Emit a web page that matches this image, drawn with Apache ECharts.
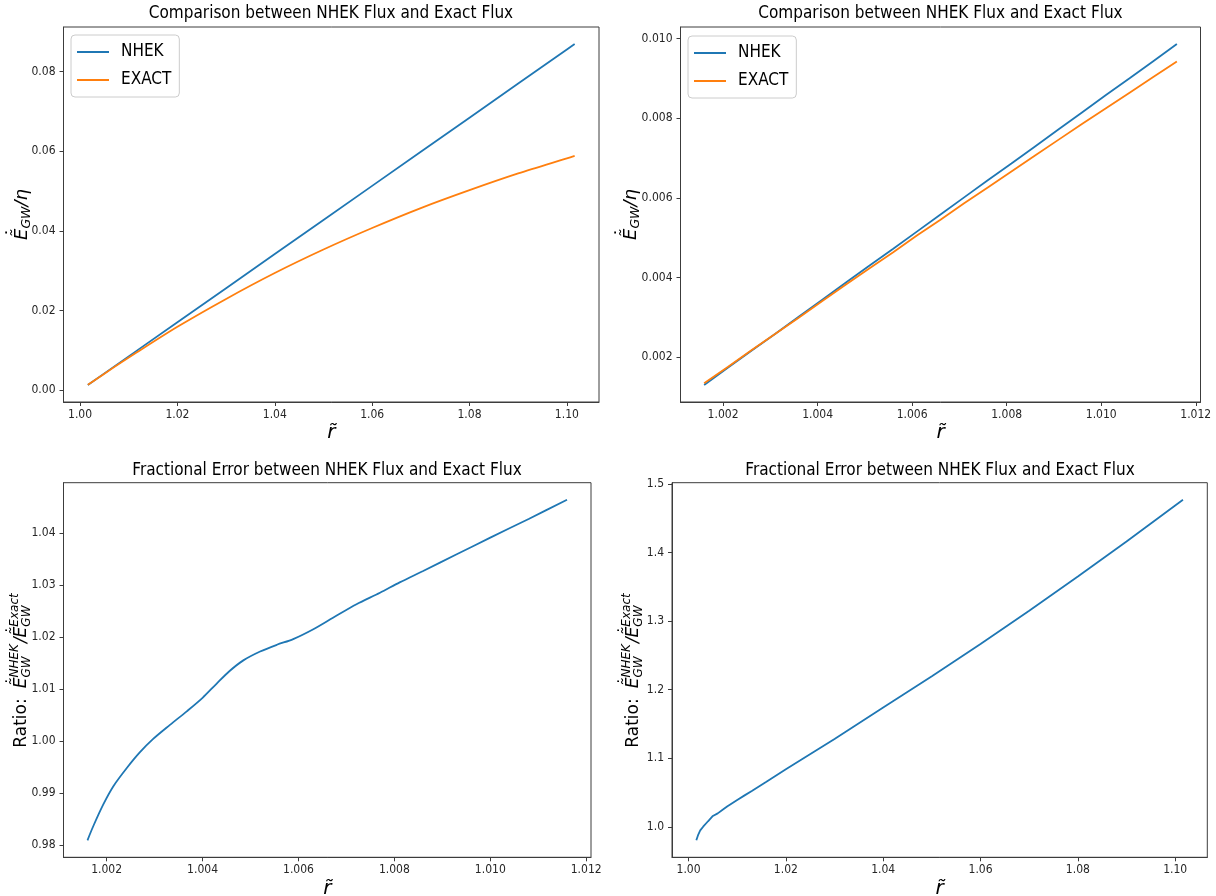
<!DOCTYPE html>
<html>
<head>
<meta charset="utf-8">
<script src="https://cdn.jsdelivr.net/npm/echarts@6/dist/echarts.min.js"></script>
<style>
html,body{margin:0;padding:0;background:#fff;}
#chart{width:1216px;height:896px;}
</style>
</head>
<body>
<div id="chart"></div>
<script>
// ---------- data ----------
// wide r range (top-left fluxes)
const rLarge = [1.0016, 1.005, 1.0116, 1.02, 1.03, 1.04, 1.05, 1.06, 1.07, 1.08, 1.09, 1.10, 1.1016];
const nhekLarge = [0.00130, 0.00421, 0.00986, 0.01705, 0.02561, 0.03417, 0.04273, 0.05129, 0.05985, 0.06841, 0.07697, 0.08553, 0.08690];
const exactLarge = [0.00133, 0.00414, 0.00942, 0.01590, 0.02290, 0.02940, 0.03530, 0.04070, 0.04570, 0.05020, 0.05440, 0.05820, 0.05880];

// narrow r range (top-right fluxes)
const rSmall = [1.0016, 1.0021, 1.0026, 1.0031, 1.0036, 1.0041, 1.0046, 1.0051, 1.0056, 1.0061, 1.0066,
                1.0071, 1.0076, 1.0081, 1.0086, 1.0091, 1.0096, 1.0101, 1.0106, 1.0111, 1.0116];
const nhekSmall = [0.00130, 0.00173, 0.00216, 0.00258, 0.00301, 0.00344, 0.00387, 0.00430, 0.00472, 0.00515, 0.00558,
                   0.00601, 0.00644, 0.00686, 0.00729, 0.00772, 0.00815, 0.00858, 0.00900, 0.00943, 0.00986];
const exactSmall = [0.00134, 0.00175, 0.00217, 0.00258, 0.00299, 0.00341, 0.00382, 0.00423, 0.00463, 0.00505, 0.00545,
                    0.00586, 0.00626, 0.00666, 0.00706, 0.00746, 0.00786, 0.00825, 0.00864, 0.00903, 0.00942];

// ratio, narrow r range (bottom-left)
const rRatioSmall = [1.0016, 1.00172, 1.00193, 1.00214, 1.00242, 1.00269, 1.00297, 1.00332, 1.00367, 1.0040,
                     1.00429, 1.00457, 1.00485, 1.0052, 1.00555, 1.00589, 1.00631, 1.00672, 1.00721, 1.0077,
                     1.00811, 1.0086, 1.0093, 1.0100, 1.0108, 1.0116];
const ratioSmall = [0.9809, 0.9836, 0.9878, 0.9913, 0.9948, 0.9978, 1.0004, 1.0031, 1.0057, 1.0083,
                    1.0110, 1.0135, 1.0155, 1.0172, 1.0185, 1.0196, 1.0215, 1.0237, 1.0263, 1.0285,
                    1.0305, 1.0327, 1.0359, 1.0391, 1.0427, 1.0464];

// ratio, wide r range (bottom-right)
const rRatioLarge = [1.0016, 1.0020, 1.0024, 1.0030, 1.0040, 1.0050, 1.0060, 1.0070, 1.0080, 1.0100, 1.0116,
                     1.0130, 1.0160, 1.0200, 1.0300, 1.0400, 1.0500, 1.0600, 1.0700, 1.0800, 1.0900, 1.1000, 1.1016];
const ratioLarge = [0.9806, 0.9890, 0.9950, 1.0004, 1.0083, 1.0160, 1.0198, 1.0250, 1.0301, 1.0392, 1.0464,
                    1.0525, 1.0660, 1.0842, 1.1283, 1.1740, 1.2195, 1.2665, 1.3150, 1.3650, 1.4160, 1.4685, 1.4768];

// tick labels
const xTicksLarge = [1.00, 1.02, 1.04, 1.06, 1.08, 1.10];
const xTicksSmall = [1.002, 1.004, 1.006, 1.008, 1.010, 1.012];
const yTicksTL = [0.00, 0.02, 0.04, 0.06, 0.08];
const yTicksTR = [0.002, 0.004, 0.006, 0.008, 0.010];
const yTicksBL = [0.98, 0.99, 1.00, 1.01, 1.02, 1.03, 1.04];
const yTicksBR = [1.0, 1.1, 1.2, 1.3, 1.4, 1.5];

const titleTop = 'Comparison between NHEK Flux and Exact Flux';
const titleBottom = 'Fractional Error between NHEK Flux and Exact Flux';

// ---------- styling ----------
const NARROW = '"Liberation Sans Narrow", "DejaVu Sans Condensed", "Liberation Sans", sans-serif';
const MATH = '"DejaVu Sans", sans-serif';
const BLUE = '#1f77b4', ORANGE = '#ff7f0e', FRAME = '#3c3c3c';

const zip = (xs, ys) => xs.map((x, i) => [x, ys[i]]);

const grids = [
  {left: 63.5, top: 27, width: 535.5, height: 375},
  {left: 680.5, top: 27, width: 520, height: 375},
  {left: 63.5, top: 482.7, width: 527.5, height: 374.6},
  {left: 672, top: 482.7, width: 535.3, height: 374.6}
].map(g => Object.assign({show: true, borderColor: FRAME, borderWidth: 1, containLabel: false, outerBoundsMode: 'none'}, g));

function xAxis(gi, min, max, ticks, dec) {
  return {
    type: 'value', gridIndex: gi, min, max,
    name: 'r\u0303', nameLocation: 'middle', nameGap: 21,
    nameTextStyle: {fontFamily: MATH, fontStyle: 'italic', fontSize: 20, color: '#000', verticalAlign: 'top'},
    axisLine: {show: true, onZero: false, lineStyle: {color: FRAME, width: 1}},
    axisTick: {show: true, inside: false, length: 4, customValues: ticks, lineStyle: {color: FRAME}},
    axisLabel: {show: true, customValues: ticks, margin: 7, fontFamily: NARROW, fontSize: 12, color: '#262626',
                formatter: v => Number(v).toFixed(dec)},
    splitLine: {show: false}
  };
}
function yAxis(gi, min, max, ticks, dec) {
  return {
    type: 'value', gridIndex: gi, min, max,
    axisLine: {show: true, onZero: false, lineStyle: {color: FRAME, width: 1}},
    axisTick: {show: true, inside: false, length: 4, customValues: ticks, lineStyle: {color: FRAME}},
    axisLabel: {show: true, customValues: ticks, margin: 8, fontFamily: NARROW, fontSize: 12, color: '#262626',
                formatter: v => Number(v).toFixed(dec)},
    splitLine: {show: false}
  };
}

// ---------- math-like rotated y labels ----------
const mctx = document.createElement('canvas').getContext('2d');
function tw(font, s) { mctx.font = font; return mctx.measureText(s).width; }
function fontOf(size, italic) { return (italic ? 'italic ' : '') + size + 'px ' + MATH; }

function textEl(x, y, s, f) {
  return {type: 'text', x: x, y: y, style: {text: s, font: f, fill: '#000', align: 'left', verticalAlign: 'middle'}};
}
function rotatedLabel(cx, cy, items) {
  const children = [];
  let x = 0;
  items.forEach(it => {
    if (it.gap) { x += it.gap; return; }
    if (it.sup) {
      const f = fontOf(it.size, true);
      const w = Math.max(tw(f, it.sup), tw(f, it.sub));
      children.push(textEl(x, it.supDy, it.sup, f));
      children.push(textEl(x, it.subDy, it.sub, f));
      x += w + 1;
      return;
    }
    const f = fontOf(it.size, it.italic);
    const w = tw(f, it.t);
    children.push(textEl(x, it.dy || 0, it.t, f));
    if (it.dot) {
      // dot accent above the tilde
      const df = fontOf(it.size, false);
      children.push({type: 'text', x: x + w * 0.66, y: -it.size * 0.44,
                     style: {text: '\u02d9', font: df, fill: '#000', align: 'center', verticalAlign: 'middle'}});
    }
    x += w + (it.after || 0);
  });
  const half = x / 2;
  children.forEach(c => { c.x -= half; });
  return {type: 'group', x: cx, y: cy, rotation: Math.PI / 2, silent: true, children};
}

const ETIL = 'E\u0303';
function fluxLabel(cx, cy) {
  return rotatedLabel(cx, cy, [
    {t: ETIL, size: 18, italic: true, dot: true},
    {t: 'GW', size: 12.5, italic: true, dy: 5},
    {t: '/\u03b7', size: 18, italic: true}
  ]);
}
function ratioLabel(cx, cy) {
  return rotatedLabel(cx, cy, [
    {t: 'Ratio:', size: 17, italic: false},
    {gap: 10},
    {t: ETIL, size: 17, italic: true, dot: true},
    {sup: 'NHEK', sub: 'GW', size: 12, supDy: -7, subDy: 5},
    {t: '/', size: 17, italic: true},
    {t: ETIL, size: 17, italic: true, dot: true},
    {sup: 'Exact', sub: 'GW', size: 12, supDy: -7, subDy: 5}
  ]);
}

const titleStyle = {fontFamily: NARROW, fontSize: 17, fontWeight: 'normal', color: '#000'};
const legendBase = {
  orient: 'vertical', data: ['NHEK', 'EXACT'], icon: 'rect', itemWidth: 32, itemHeight: 2, itemGap: 8,
  padding: [7, 8, 7, 6], borderColor: '#cccccc', borderWidth: 1, borderRadius: 4,
  backgroundColor: 'rgba(255,255,255,0.8)',
  textStyle: {fontFamily: NARROW, fontSize: 17, color: '#000', lineHeight: 20, padding: [0, 0, 0, 7]},
  selectedMode: false
};

const option = {
  animation: false,
  backgroundColor: '#ffffff',
  title: [
    {text: titleTop, left: 331, top: 5, textAlign: 'center', padding: 0, textStyle: titleStyle},
    {text: titleTop, left: 940.5, top: 5, textAlign: 'center', padding: 0, textStyle: titleStyle},
    {text: titleBottom, left: 327, top: 462, textAlign: 'center', padding: 0, textStyle: titleStyle},
    {text: titleBottom, left: 940, top: 462, textAlign: 'center', padding: 0, textStyle: titleStyle}
  ],
  legend: [
    Object.assign({left: 71, top: 35}, legendBase),
    Object.assign({left: 688, top: 36}, legendBase)
  ],
  grid: grids,
  xAxis: [
    xAxis(0, 0.9966, 1.1066, xTicksLarge, 2),
    xAxis(1, 1.0011, 1.0121, xTicksSmall, 3),
    xAxis(2, 1.0011, 1.0121, xTicksSmall, 3),
    xAxis(3, 0.9966, 1.1066, xTicksLarge, 2)
  ],
  yAxis: [
    yAxis(0, -0.00298, 0.09118, yTicksTL, 2),
    yAxis(1, 0.000872, 0.010288, yTicksTR, 3),
    yAxis(2, 0.97763, 1.04967, yTicksBL, 2),
    yAxis(3, 0.9558, 1.5016, yTicksBR, 1)
  ],
  series: [
    {name: 'NHEK', type: 'line', xAxisIndex: 0, yAxisIndex: 0, data: zip(rLarge, nhekLarge), symbol: 'none',
     lineStyle: {color: BLUE, width: 1.8}, itemStyle: {color: BLUE}},
    {name: 'EXACT', type: 'line', xAxisIndex: 0, yAxisIndex: 0, data: zip(rLarge, exactLarge), symbol: 'none', smooth: 0.3,
     lineStyle: {color: ORANGE, width: 1.8}, itemStyle: {color: ORANGE}},
    {name: 'NHEK', type: 'line', xAxisIndex: 1, yAxisIndex: 1, data: zip(rSmall, nhekSmall), symbol: 'none',
     lineStyle: {color: BLUE, width: 1.8}, itemStyle: {color: BLUE}},
    {name: 'EXACT', type: 'line', xAxisIndex: 1, yAxisIndex: 1, data: zip(rSmall, exactSmall), symbol: 'none',
     lineStyle: {color: ORANGE, width: 1.8}, itemStyle: {color: ORANGE}},
    {name: 'ratioSmall', type: 'line', xAxisIndex: 2, yAxisIndex: 2, data: zip(rRatioSmall, ratioSmall), symbol: 'none', smooth: 0.3,
     lineStyle: {color: BLUE, width: 1.8}, itemStyle: {color: BLUE}},
    {name: 'ratioLarge', type: 'line', xAxisIndex: 3, yAxisIndex: 3, data: zip(rRatioLarge, ratioLarge), symbol: 'none',
     lineStyle: {color: BLUE, width: 1.8}, itemStyle: {color: BLUE}}
  ],
  graphic: [
    fluxLabel(22, 214.5),
    fluxLabel(631, 214.5),
    ratioLabel(22, 670),
    ratioLabel(634, 670)
  ]
};

const chart = echarts.init(document.getElementById('chart'), null, {renderer: 'canvas', width: 1216, height: 896});
chart.setOption(option);
</script>
</body>
</html>
